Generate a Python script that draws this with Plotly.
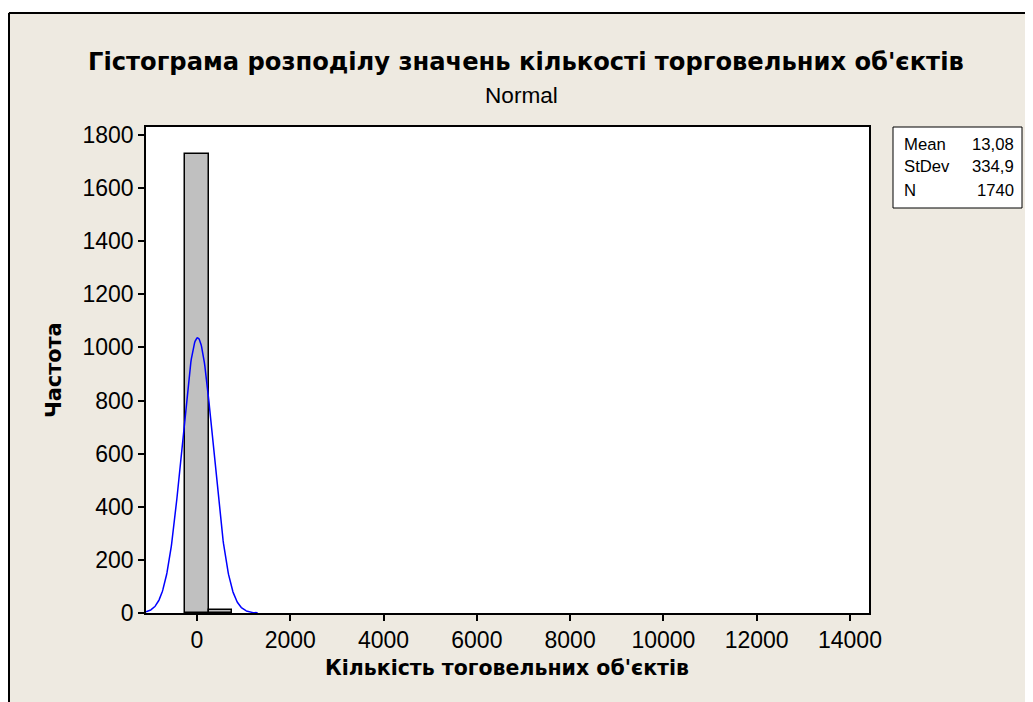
import plotly.graph_objects as go
import numpy as np

# ---- data ----
BIN_CENTERS = [0, 500]
BIN_COUNTS = [1730, 10]
BIN_WIDTH = 500
MEAN = 13.08
STDEV = 334.9
N = 1740
X_TICKS = [0, 2000, 4000, 6000, 8000, 10000, 12000, 14000]
Y_TICKS = [0, 200, 400, 600, 800, 1000, 1200, 1400, 1600, 1800]
STATS_LABELS = ["Mean", "StDev", "N"]
STATS_VALUES = ["13,08", "334,9", "1740"]

TITLE = "Гістограма розподілу значень кількості торговельних об'єктів"
SUBTITLE = "Normal"
X_TITLE = "Кількість тоговельних об'єктів"
Y_TITLE = "Частота"

OFF = 8  # default body margin of the html page
W, H = 1033 - OFF, 702 - OFF
# plot area in screen pixels
L, R, T, B = 146, 869, 127, 613
X_RANGE = [-1093, 14408]
Y_RANGE = [0, 1830]

def px(x):
    return (x - L) / (R - L)

def py(y):
    return (B - y) / (B - T)

# fitted normal curve scaled to counts
xc = np.linspace(X_RANGE[0], 1300, 240)
yc = N * BIN_WIDTH * np.exp(-0.5 * ((xc - MEAN) / STDEV) ** 2) / (STDEV * np.sqrt(2 * np.pi))

BEIGE = "#EEEAE1"

fig = go.Figure()
fig.add_trace(go.Bar(x=BIN_CENTERS, y=BIN_COUNTS, width=BIN_WIDTH,
                     marker=dict(color="#C0C0C0", line=dict(color="black", width=1.5)),
                     showlegend=False, hoverinfo="x+y"))
fig.add_trace(go.Scatter(x=xc, y=yc, mode="lines", line=dict(color="#0000FF", width=1.5),
                         showlegend=False, hoverinfo="skip"))

REG = "Liberation Sans"
BOLD = "DejaVu Sans"

shapes = [
    dict(type="rect", xref="paper", yref="paper", x0=px(0), x1=px(1040), y0=py(0), y1=py(12),
         fillcolor="white", line=dict(width=0), layer="below"),
    dict(type="line", xref="paper", yref="paper", x0=px(9), x1=px(1040), y0=py(13), y1=py(13),
         line=dict(color="black", width=2)),
    dict(type="line", xref="paper", yref="paper", x0=px(9), x1=px(9), y0=py(13), y1=py(710),
         line=dict(color="black", width=2)),
    dict(type="rect", xref="paper", yref="paper", x0=px(893), x1=px(1022), y0=py(208), y1=py(127),
         fillcolor="white", line=dict(color="black", width=1)),
]

annotations = [
    dict(text="<b>" + TITLE + "</b>", x=px(526), y=py(62), xref="paper", yref="paper",
         xanchor="center", yanchor="middle", showarrow=False,
         font=dict(family=BOLD, size=24.2, color="black")),
    dict(text=SUBTITLE, x=px(521), y=py(95), xref="paper", yref="paper",
         xanchor="center", yanchor="middle", showarrow=False,
         font=dict(family=REG, size=22.6, color="black")),
    dict(text="<b>" + X_TITLE + "</b>", x=px(507), y=py(668), xref="paper", yref="paper",
         xanchor="center", yanchor="middle", showarrow=False,
         font=dict(family=BOLD, size=20.5, color="black")),
    dict(text="<b>" + Y_TITLE + "</b>", x=px(54), y=py(370), xref="paper", yref="paper",
         xanchor="center", yanchor="middle", showarrow=False, textangle=-90,
         font=dict(family=BOLD, size=20.8, color="black")),
]
row_y = [144, 167, 190]
for lab, val, yy in zip(STATS_LABELS, STATS_VALUES, row_y):
    annotations.append(dict(text=lab, x=px(902), y=py(yy), xref="paper", yref="paper",
                            xanchor="left", yanchor="middle", showarrow=False,
                            font=dict(family=REG, size=16.7, color="black")))
    annotations.append(dict(text=val, x=px(1016), y=py(yy), xref="paper", yref="paper",
                            xanchor="right", yanchor="middle", showarrow=False,
                            font=dict(family=REG, size=16.7, color="black")))

fig.update_layout(
    width=W, height=H,
    margin=dict(l=L - OFF, r=W - (R - OFF), t=T - OFF, b=H - (B - OFF), pad=0),
    paper_bgcolor=BEIGE, plot_bgcolor="white",
    bargap=0, shapes=shapes, annotations=annotations,
    xaxis=dict(range=X_RANGE, tickvals=X_TICKS, ticktext=[str(v) for v in X_TICKS],
               ticks="outside", ticklen=6, tickwidth=1.5,
               tickcolor="black", showline=True, linecolor="black", linewidth=1.5, mirror=True,
               showgrid=False, zeroline=False,
               tickfont=dict(family=REG, size=23, color="black")),
    yaxis=dict(range=Y_RANGE, tickvals=Y_TICKS, ticktext=[str(v) for v in Y_TICKS],
               ticks="outside", ticklen=6, tickwidth=1.5,
               tickcolor="black", showline=True, linecolor="black", linewidth=1.5, mirror=True,
               showgrid=False, zeroline=False,
               tickfont=dict(family=REG, size=23, color="black")),
)

fig.write_html("out.html")
